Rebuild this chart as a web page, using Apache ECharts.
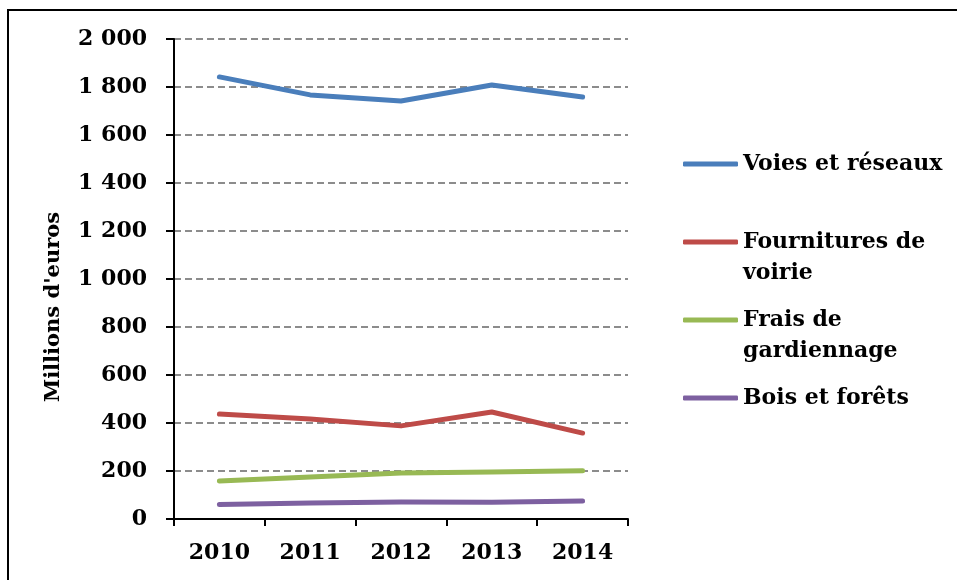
<!DOCTYPE html>
<html>
<head>
<meta charset="utf-8">
<script src="https://cdn.jsdelivr.net/npm/echarts@6/dist/echarts.min.js"></script>
<style>
  html, body { margin: 0; padding: 0; background: #fff; }
  #chart { width: 957px; height: 580px; }
</style>
</head>
<body>
<div id="chart"></div>
<script>
var years = ['2010', '2011', '2012', '2013', '2014'];
var voies = [1842, 1767, 1742, 1808, 1758];
var fournitures = [437, 417, 388, 446, 358];
var frais = [158, 175, 192, 196, 201];
var bois = [60, 67, 71, 70, 75];
var yTicks = [0, 200, 400, 600, 800, 1000, 1200, 1400, 1600, 1800, 2000];

var font = 'DejaVu Serif';
var chart = echarts.init(document.getElementById('chart'));

function fmt(v) {
    // espace comme séparateur des milliers
    return String(v).replace(/\B(?=(\d{3})+(?!\d))/g, ' ');
}

// une légende par série, pour placer chaque entrée comme sur l'original
function legendAt(name, iconY, lines) {
    return {
        orient: 'vertical',
        left: 683,
        top: iconY - 15.5 * lines,
        padding: 0,
        itemWidth: 55,
        itemHeight: 5,
        itemGap: 0,
        icon: 'roundRect',
        data: [name],
        formatter: function(n){
            // ligne vide en tête : la 1re ligne du texte reste à hauteur du trait
            if (n === 'Fournitures de voirie') return ' \nFournitures de\nvoirie';
            if (n === 'Frais de gardiennage') return ' \nFrais de\ngardiennage';
            return n;
        },
        textStyle: {
            fontFamily: font,
            fontWeight: 'bold',
            fontSize: 22,
            color: '#000',
            lineHeight: 31
        }
    };
}

function line(name, data, color) {
    return {
        name: name,
        type: 'line',
        data: data,
        symbol: 'none',
        lineStyle: {color: color, width: 5, cap: 'round', join: 'round'},
        itemStyle: {color: color}
    };
}

var option = {
    backgroundColor: '#fff',
    animation: false,
    grid: {left: 174, right: 329, top: 39, bottom: 61},
    legend: [
        legendAt('Voies et réseaux', 164, 1),
        legendAt('Fournitures de voirie', 242, 3),
        legendAt('Frais de gardiennage', 320, 3),
        legendAt('Bois et forêts', 398, 1)
    ],
    xAxis: {
        type: 'category',
        data: years,
        boundaryGap: true,
        axisLine: {lineStyle: {color: '#000', width: 2}},
        axisTick: {show: true, length: 7, lineStyle: {color: '#000', width: 2}},
        axisLabel: {
            margin: 23,
            fontFamily: font, fontWeight: 'bold', fontSize: 22, color: '#000'
        }
    },
    yAxis: {
        type: 'value',
        min: yTicks[0],
        max: yTicks[yTicks.length - 1],
        interval: 200,
        name: "Millions d'euros",
        nameLocation: 'middle',
        nameGap: 110,
        nameTextStyle: {
            fontFamily: font, fontWeight: 'bold', fontSize: 21, color: '#000',
            padding: [0, 56, 0, 0]
        },
        axisLine: {show: true, lineStyle: {color: '#000', width: 2}},
        axisTick: {show: true, length: 8, lineStyle: {color: '#000', width: 2}},
        axisLabel: {
            margin: 27,
            fontFamily: font, fontWeight: 'bold', fontSize: 22, color: '#000',
            formatter: fmt
        },
        splitLine: {show: true, lineStyle: {color: '#8c8c8c', width: 2, type: [7, 4]}}
    },
    series: [
        line('Voies et réseaux', voies, '#4a7ebb'),
        line('Fournitures de voirie', fournitures, '#be4b48'),
        line('Frais de gardiennage', frais, '#98b954'),
        line('Bois et forêts', bois, '#7d60a0')
    ],
    graphic: [{
        type: 'polyline',
        shape: {points: [[8, 580], [8, 10], [957, 10]]},
        style: {stroke: '#000', lineWidth: 2, fill: null}
    }]
};

chart.setOption(option);
</script>
</body>
</html>
